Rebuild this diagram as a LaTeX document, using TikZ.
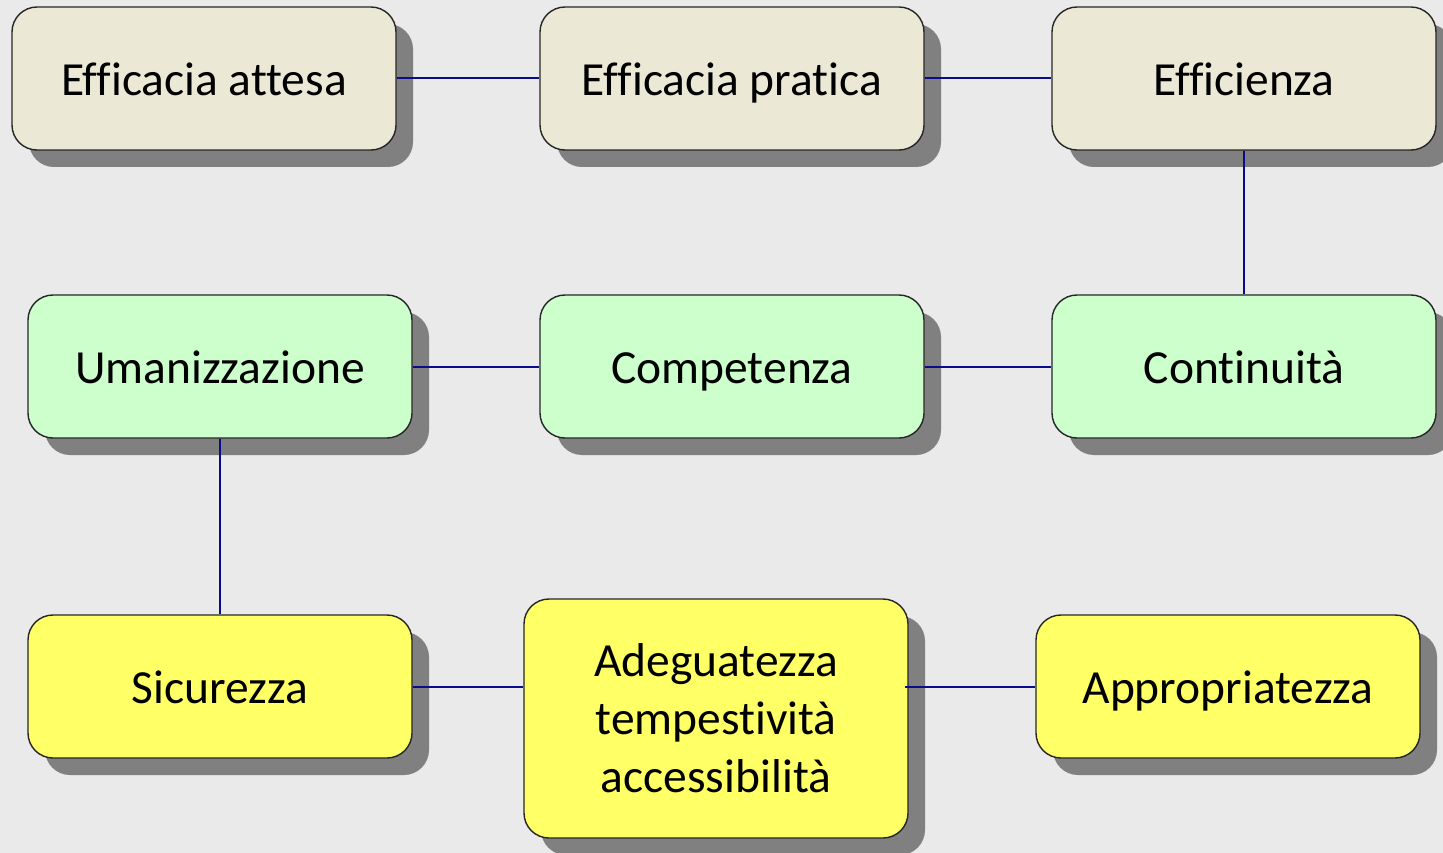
\documentclass[tikz,border=0pt]{standalone}
\usepackage{fontspec}
\setmainfont{Carlito}[RawFeature=-liga]
\usepackage {tikz}
\usetikzlibrary {positioning}
\usetikzlibrary{shadows}
\definecolor{pagegray}{HTML}{EAEAEA}
\definecolor{boxbeige}{HTML}{EBE9D6}
\definecolor{boxgreen}{HTML}{CCFFCC}
\definecolor{boxyellow}{HTML}{FFFF66}
\definecolor{boxshadow}{HTML}{808080}
\definecolor{linkblue}{HTML}{0A0A8C}
\tikzset{
    quality/.style = {rectangle, rounded corners=25pt, draw=black!85, line width=1.4pt,
        minimum width=384pt, minimum height=143pt, align=center, inner sep=0pt,
        font=\fontsize{47.5}{58}\selectfont,
        drop shadow={shadow xshift=17pt, shadow yshift=-17pt, fill=boxshadow, opacity=1}},
    oneline/.style = {text height=34pt, text depth=0pt},
    outcome/.style = {quality, oneline, fill=boxbeige},
    process/.style = {quality, oneline, fill=boxgreen},
    access/.style = {quality, fill=boxyellow},
    linkline/.style = {draw=linkblue, line width=2pt}}
\begin{document}
\begin{tikzpicture}[x=1pt,y=-1pt]
        \fill[pagegray] (0,0) rectangle (1443,853);
        \useasboundingbox (0,0) rectangle (1443,853);
        \path (204,78.5) node[outcome] (EA) {Efficacia attesa}
        ++ (528,0) node[outcome] (EP) {Efficacia pratica}
        ++ (512,0) node[outcome] (EF) {Efficienza};
        \path (220,366.5) node[process] (UM) {Umanizzazione}
        ++ (512,0) node[process] (CO) {Competenza}
        ++ (512,0) node[process] (CN) {Continuità};
        \path (220,686.5) node[access, oneline] (SI) {Sicurezza}
        ++ (496,32) node[access, minimum height=239pt] (AD) {Adeguatezza\\tempestività\\accessibilità}
        ++ (512,-32) node[access, oneline] (AP) {Appropriatezza};
        \draw[linkline] (EA) -- (EP) (EP) -- (EF) (EF) -- (CN);
        \draw[linkline] (UM) -- (CO) (CO) -- (CN) (UM) -- (SI);
        \draw[linkline] (SI.east) -- (SI.east -| AD.west) ([xshift=-4pt]AP.west -| AD.east) -- (AP.west);
    \end{tikzpicture}
\end{document}
